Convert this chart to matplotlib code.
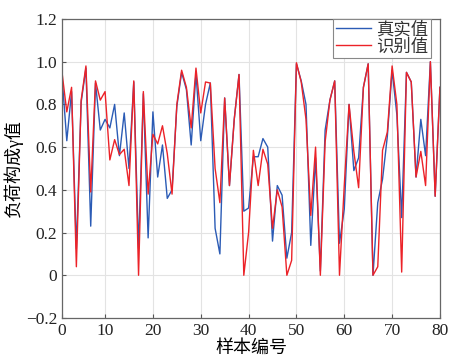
import numpy as np
import matplotlib.pyplot as plt
from matplotlib.ticker import FuncFormatter

plt.rcParams['font.family'] = ['Liberation Serif', 'Noto Sans CJK SC']
plt.rcParams['axes.unicode_minus'] = True

# sample numbers 1..80
samples = list(range(1, 81))

# 真实值 (blue)
true_vals = [0.93, 0.63, 0.86, 0.125, 0.81, 0.97, 0.23, 0.90, 0.68, 0.73,
             0.69, 0.80, 0.56, 0.76, 0.50, 0.905, 0.125, 0.85, 0.175, 0.765,
             0.46, 0.61, 0.36, 0.40, 0.79, 0.95, 0.87, 0.61, 0.945, 0.63,
             0.80, 0.90, 0.22, 0.10, 0.83, 0.42, 0.73, 0.94, 0.30, 0.315,
             0.555, 0.555, 0.64, 0.60, 0.16, 0.42, 0.375, 0.08, 0.20, 0.99,
             0.91, 0.80, 0.14, 0.55, 0.02, 0.68, 0.82, 0.91, 0.15, 0.31,
             0.80, 0.49, 0.55, 0.88, 0.99, 0.0, 0.34, 0.45, 0.65, 0.96,
             0.75, 0.27, 0.95, 0.905, 0.46, 0.73, 0.56, 1.0, 0.37, 0.88]

# 识别值 (red)
pred_vals = [0.95, 0.765, 0.88, 0.04, 0.82, 0.98, 0.39, 0.91, 0.82, 0.86,
             0.54, 0.635, 0.565, 0.59, 0.42, 0.91, 0.0, 0.86, 0.38, 0.66,
             0.615, 0.70, 0.57, 0.38, 0.80, 0.96, 0.88, 0.69, 0.97, 0.76,
             0.905, 0.90, 0.50, 0.34, 0.83, 0.42, 0.73, 0.94, 0.0, 0.20,
             0.585, 0.42, 0.59, 0.52, 0.22, 0.40, 0.32, 0.0, 0.07, 0.995,
             0.905, 0.73, 0.28, 0.60, 0.0, 0.625, 0.82, 0.91, 0.0, 0.42,
             0.80, 0.58, 0.41, 0.88, 0.99, 0.0, 0.04, 0.585, 0.67, 0.98,
             0.80, 0.015, 0.95, 0.905, 0.46, 0.58, 0.42, 1.0, 0.37, 0.88]

xtick_pos = [1, 10, 20, 30, 40, 50, 60, 70, 80]
xtick_labels = ['0', '10', '20', '30', '40', '50', '60', '70', '80']

fig = plt.figure(figsize=(4.51, 3.64), dpi=100)
ax = fig.add_axes([0.1375, 0.1264, 0.838, 0.8215])

ax.plot(samples, true_vals, color='#2b5bb5', lw=1.0, label='真实值')
ax.plot(samples, pred_vals, color='#ec2228', lw=1.0, label='识别值')

ax.set_xlim(1, 80)
ax.set_ylim(-0.2, 1.2)
ax.set_xticks(xtick_pos)
ax.set_xticklabels(xtick_labels)
ax.set_yticks(np.arange(-0.2, 1.21, 0.2))
ax.yaxis.set_major_formatter(FuncFormatter(
    lambda v, p: '0' if abs(v) < 1e-9 else ('\u2212%.1f' % -v if v < 0 else '%.1f' % v)))

ax.grid(True, color='#e3e3e3', lw=0.8)
ax.tick_params(direction='in', labelsize=12.5, colors='#222222', length=3,
               color='#555555')
for s in ax.spines.values():
    s.set_color('#666666')
    s.set_linewidth(0.9)

ax.set_xlabel('样本编号', fontsize=13, labelpad=1)
ax.set_ylabel('负荷构成γ值', fontsize=13, labelpad=2)

leg = ax.legend(loc='upper right', bbox_to_anchor=(0.975, 1.0), fontsize=12.5,
                fancybox=False, framealpha=1, edgecolor='#888888',
                borderpad=0.15, labelspacing=0.05, handlelength=2.0,
                handletextpad=0.3, borderaxespad=0.0)
leg.get_frame().set_linewidth(0.8)
for t in leg.get_texts():
    t.set_color('#333333')

fig.savefig('out.png', dpi=100)
